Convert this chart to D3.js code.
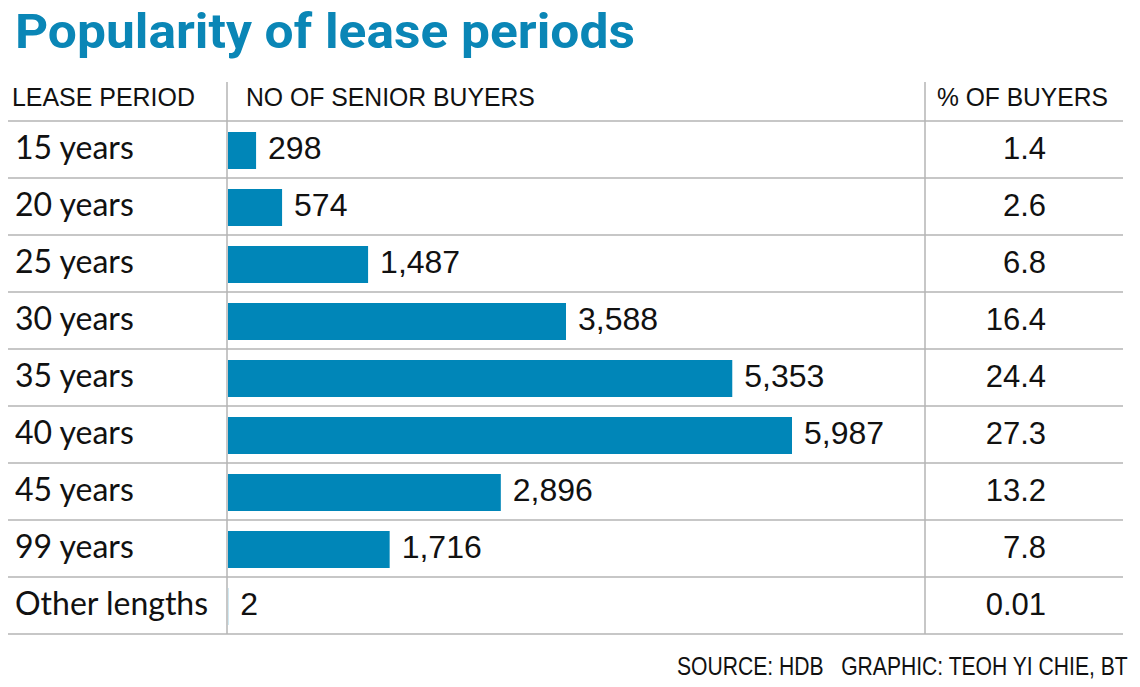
<!DOCTYPE html>
<html>
<head>
<meta charset="utf-8">
<script src="https://cdn.jsdelivr.net/npm/d3@7"></script>
<style>
  body { margin: 0; background: #fff; }
  svg { display: block; }
  text { white-space: pre; }
</style>
</head>
<body>
<script>
// data
const periods = ["15 years", "20 years", "25 years", "30 years", "35 years", "40 years", "45 years", "99 years", "Other lengths"]
const buyers = [298, 574, 1487, 3588, 5353, 5987, 2896, 1716, 2]
const pctBuyers = ["1.4", "2.6", "6.8", "16.4", "24.4", "27.3", "13.2", "7.8", "0.01"]
const headers = ["LEASE PERIOD", "NO OF SENIOR BUYERS", "% OF BUYERS"]

const W = 1140, H = 687
const blue = "#0086b8"
const lineCol = "#b4b4b4"

const rows = periods.map(function(p, i) {
  return {period: p, value: buyers[i], pct: pctBuyers[i]}
})

const svg = d3.select("body").append("svg")
  .attr("width", W)
  .attr("height", H)

// squeeze a text horizontally so it spans 'width' px starting from x
function fitWidth(sel, x, width) {
  sel.each(function() {
    const natural = this.getComputedTextLength()
    const k = width / natural
    d3.select(this).attr("transform", "translate(" + x + ",0) scale(" + k + ",1) translate(" + (-x) + ",0)")
  })
}

// title
svg.append("text")
  .attr("x", 15).attr("y", 48)
  .attr("font-family", "Roboto")
  .attr("font-weight", 700)
  .attr("font-size", 48)
  .attr("fill", "#0a86b6")
  .text("Popularity of lease periods")
  .call(fitWidth, 15, 620)

// scales
const y = d3.scaleBand()
  .domain(periods)
  .range([121, 634])

const colLeft = 227, colRight = 925
const x = d3.scaleLinear()
  .domain([0, d3.max(buyers)])
  .range([colLeft + 1, 792])

// header row
const hdr = [
  {t: headers[0], x: 12, len: 183},
  {t: headers[1], x: 246, len: 289},
  {t: headers[2], x: 937, len: 171}
]
svg.selectAll(".hdr")
  .data(hdr)
  .enter().append("text")
  .attr("class", "hdr")
  .attr("x", function(d) { return d.x })
  .attr("y", 106)
  .attr("font-family", "Liberation Sans")
  .attr("font-size", 26)
  .attr("fill", "#111")
  .text(function(d) { return d.t })
  .each(function(d) { d3.select(this).call(fitWidth, d.x, d.len) })

// horizontal rules
const ruleYs = periods.map(function(p) { return y(p) }).concat([y.range()[1]])
svg.selectAll(".rule")
  .data(ruleYs)
  .enter().append("line")
  .attr("class", "rule")
  .attr("x1", 8).attr("x2", 1123)
  .attr("y1", function(d) { return d }).attr("y2", function(d) { return d })
  .attr("stroke", lineCol)
  .attr("stroke-width", 1.5)

// vertical rules
svg.selectAll(".vrule")
  .data([colLeft, colRight])
  .enter().append("line")
  .attr("class", "vrule")
  .attr("x1", function(d) { return d }).attr("x2", function(d) { return d })
  .attr("y1", 82).attr("y2", 634)
  .attr("stroke", lineCol)
  .attr("stroke-width", 1.5)

const barH = 37
const row = svg.selectAll(".row")
  .data(rows)
  .enter().append("g")
  .attr("class", "row")
  .attr("transform", function(d) { return "translate(0," + y(d.period) + ")" })

row.append("rect")
  .attr("x", x(0))
  .attr("y", (y.bandwidth() - barH) / 2 + 1)
  .attr("width", function(d) { return x(d.value) - x(0) })
  .attr("height", barH)
  .attr("fill", blue)

row.append("text")
  .attr("x", 15)
  .attr("y", 38)
  .attr("font-family", "Lato")
  .attr("font-size", 32)
  .attr("fill", "#111")
  .text(function(d) { return d.period })

row.append("text")
  .attr("x", function(d) { return x(d.value) + 12 })
  .attr("y", 38)
  .attr("font-family", "Liberation Sans")
  .attr("font-size", 32)
  .attr("fill", "#111")
  .text(function(d) { return d3.format(",")(d.value) })

row.append("text")
  .attr("x", 1046)
  .attr("y", 38)
  .attr("text-anchor", "end")
  .attr("font-family", "Liberation Sans")
  .attr("font-size", 31)
  .attr("fill", "#111")
  .text(function(d) { return d.pct })

// footer
svg.append("text")
  .attr("x", 677).attr("y", 675)
  .attr("font-family", "Liberation Sans")
  .attr("font-size", 25)
  .attr("fill", "#111")
  .text("SOURCE: HDB   GRAPHIC: TEOH YI CHIE, BT")
  .call(fitWidth, 677, 451)
</script>
</body>
</html>
